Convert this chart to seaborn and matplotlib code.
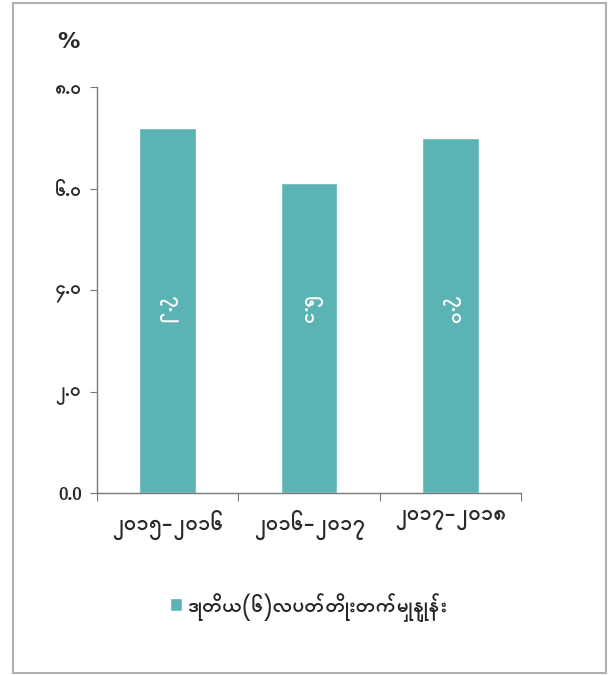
import matplotlib
matplotlib.use('Agg')
import matplotlib.pyplot as plt
import seaborn as sns
import pandas as pd
from matplotlib.patches import Rectangle

periods = ['၂၀၁၅-၂၀၁၆', '၂၀၁၆-၂၀၁၇', '၂၀၁၇-၂၀၁၈']
growth = [7.2, 6.1, 7.0]
bar_labels = ['၇.၂', '၆.၁', '၇.၀']
y_ticks = [0, 2, 4, 6, 8]
y_tick_labels = ['0.0', '၂.၀', '၄.၀', '၆.၀', '၈.၀']
legend_label = 'ဒုတိယ(၆)လပတ်တိုးတက်မှုနှုန်း'

sns.set_style('white')
plt.rcParams['font.family'] = ['Padauk', 'DejaVu Sans']
plt.rcParams['font.weight'] = 'bold'

df = pd.DataFrame({'period': periods, 'growth': growth})
bar_color = '#5BB3B4'
axis_color = '#7a7a7a'
text_color = '#2a2a2a'

fig = plt.figure(figsize=(6.11, 6.75), dpi=100)
fig.patches.append(Rectangle((13 / 611, 2 / 675), 593 / 611, 670 / 675,
                             transform=fig.transFigure, fill=False,
                             edgecolor='#b0b0b0', linewidth=1.5))
ax = fig.add_axes([97 / 611, 1 - 493 / 675, 424 / 611, 406 / 675])

sns.barplot(data=df, x='period', y='growth', color=bar_color,
            saturation=1, width=0.4, ax=ax, label=legend_label)

for i, lab in enumerate(bar_labels):
    ax.text(i, 3.6, lab, rotation=270, ha='center', va='center',
            color='white', fontsize=15, fontweight='bold')

ax.set_xlim(-0.5, 2.5)
ax.set_ylim(0, 8)
ax.set_yticks(y_ticks)
ax.set_yticklabels(y_tick_labels, fontsize=14, fontweight='bold',
                   color=text_color)
ax.set_xticks([-0.5, 0.5, 1.5, 2.5])
ax.set_xticklabels([])
ax.set_xticks([0, 1, 2], minor=True)
ax.set_xticklabels(periods, minor=True, fontsize=16, fontweight='bold',
                   color=text_color)
ax.tick_params(axis='x', which='minor', length=0, pad=12)
ax.tick_params(axis='x', which='major', length=6, color=axis_color,
               direction='out', bottom=True)
ax.tick_params(axis='y', length=5, color=axis_color, direction='out',
               left=True, pad=6)
ax.set_xlabel('')
ax.set_ylabel('')
sns.despine(ax=ax)
for side in ['left', 'bottom']:
    ax.spines[side].set_color(axis_color)
    ax.spines[side].set_linewidth(1)

fig.text(68 / 611, 1 - 42 / 675, '%', ha='center', va='center',
         fontsize=16, fontweight='bold', color=text_color,
         family='DejaVu Sans')

ax.legend(loc='upper center', bbox_to_anchor=(0.5, -0.2), frameon=False,
          prop={'size': 15, 'weight': 'bold'},
          handlelength=0.6, handleheight=0.6, handletextpad=0.3)

fig.savefig('out.png', dpi=100)
